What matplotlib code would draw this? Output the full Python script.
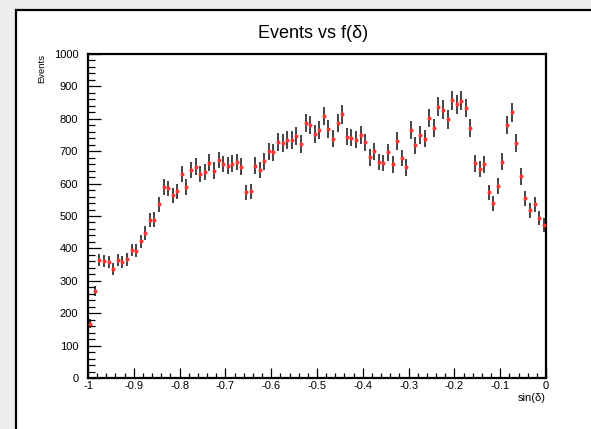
import numpy as np
import matplotlib
matplotlib.use('Agg')
import matplotlib.pyplot as plt
from matplotlib.patches import Rectangle
from matplotlib.ticker import MultipleLocator

plt.rcParams['font.family'] = ['Liberation Sans', 'DejaVu Sans']

# histogram range and bin contents (100 bins from -1 to 0)
x_min, x_max = -1.0, 0.0
counts = [
    168, 269, 364, 361, 358, 337, 364, 357, 366, 395,
    393, 422, 447, 487, 489, 536, 590, 585, 564, 576,
    630, 590, 642, 652, 629, 635, 665, 640, 673, 661,
    655, 662, 667, 652, 573, 576, 655, 642, 669, 700,
    697, 728, 725, 735, 735, 746, 722, 788, 781, 754,
    766, 809, 768, 739, 786, 814, 745, 742, 736, 750,
    727, 681, 700, 667, 664, 697, 659, 731, 679, 650,
    766, 718, 751, 739, 803, 771, 837, 828, 798, 857,
    845, 856, 833, 771, 663, 645, 659, 573, 540, 593,
    668, 781, 820, 726, 622, 555, 518, 536, 493, 471,
]

title = 'Events vs f(δ)'
x_title = 'sin(δ)'
y_title = 'Events'
x_ticks = [-1, -0.9, -0.8, -0.7, -0.6, -0.5, -0.4, -0.3, -0.2, -0.1, 0]
x_tick_labels = ['-1', '-0.9', '-0.8', '-0.7', '-0.6', '-0.5', '-0.4', '-0.3', '-0.2', '-0.1', '0']
y_ticks = [0, 100, 200, 300, 400, 500, 600, 700, 800, 900, 1000]

counts = np.array(counts, dtype=float)
edges = np.linspace(x_min, x_max, len(counts) + 1)
centers = 0.5 * (edges[:-1] + edges[1:])
errors = np.sqrt(counts)

fig = plt.figure(figsize=(5.91, 4.29), dpi=100, facecolor='#eeeeee')

# white canvas with black border (runs past the right and bottom edges)
canvas = Rectangle((16 / 591, -0.1), 1.2, 0.1 + (429 - 10) / 429,
                   transform=fig.transFigure, facecolor='white',
                   edgecolor='black', linewidth=1.6, zorder=-5)
fig.patches.append(canvas)

ax = fig.add_axes([88 / 591, (429 - 378) / 429, 458 / 591, 324 / 429])
ax.set_zorder(1)
ax.set_facecolor('white')

ax.errorbar(centers, counts, yerr=errors, fmt='none', ecolor='#111111',
            elinewidth=1.1, capsize=0, zorder=2)
ax.plot(centers, counts, 'o', color='#ff3333', markersize=2.9,
        markeredgewidth=0, zorder=3)

ax.set_xlim(x_min, x_max)
ax.set_ylim(0, 1000)
ax.set_xticks(x_ticks)
ax.set_xticklabels(x_tick_labels)
ax.set_yticks(y_ticks)
ax.xaxis.set_minor_locator(MultipleLocator(0.02))
ax.yaxis.set_minor_locator(MultipleLocator(20))

ax.tick_params(axis='x', which='major', direction='in', length=7, width=0.9,
               labelsize=8, pad=2.5, top=False)
ax.tick_params(axis='x', which='minor', direction='in', length=3.5, width=0.9,
               top=False)
ax.tick_params(axis='y', which='major', direction='in', length=9.5, width=0.9,
               labelsize=8, pad=7, right=False)
ax.tick_params(axis='y', which='minor', direction='in', length=4.7, width=0.9,
               right=False)

for side in ['left', 'right', 'top', 'bottom']:
    ax.spines[side].set_linewidth(1.6)

ax.text(1.0, -0.045, x_title, transform=ax.transAxes, ha='right', va='top',
        fontsize=8)
ax.text(-0.10, 1.0, y_title, transform=ax.transAxes, rotation=90,
        ha='center', va='top', fontsize=6.8)

fig.text(313 / 591, 1 - 33 / 429, title, ha='center', va='center', fontsize=13)

fig.savefig('out.png', dpi=100, facecolor=fig.get_facecolor())
